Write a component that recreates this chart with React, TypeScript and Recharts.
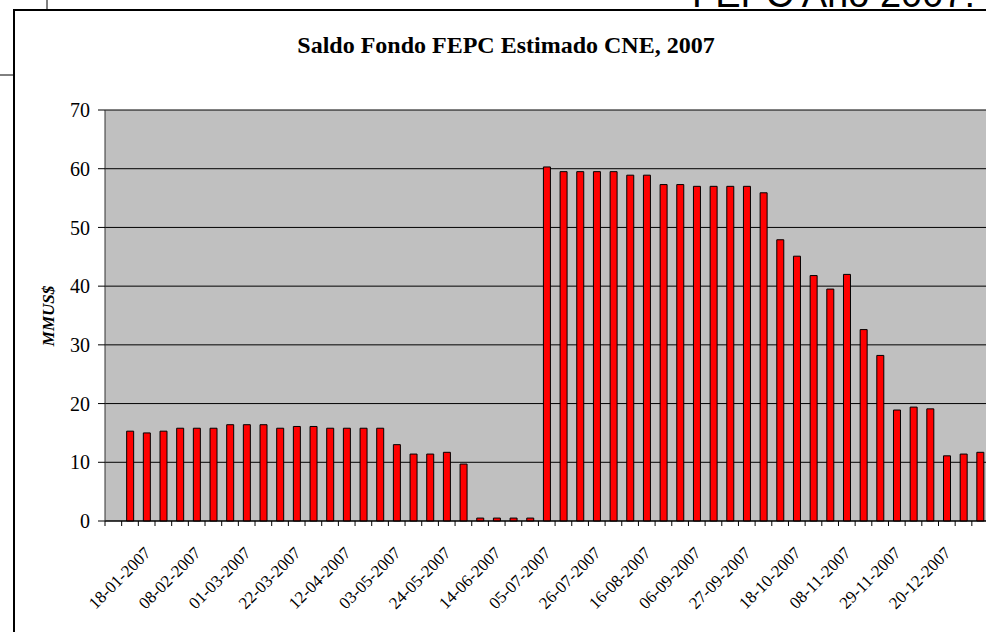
import { BarChart, Bar, XAxis, YAxis, CartesianGrid } from "recharts"

// semanas (jueves) 2007, la primera sin dato
const fechas = [
  "04-01-2007", "11-01-2007", "18-01-2007", "25-01-2007", "01-02-2007", "08-02-2007",
  "15-02-2007", "22-02-2007", "01-03-2007", "08-03-2007", "15-03-2007", "22-03-2007",
  "29-03-2007", "05-04-2007", "12-04-2007", "19-04-2007", "26-04-2007", "03-05-2007",
  "10-05-2007", "17-05-2007", "24-05-2007", "31-05-2007", "07-06-2007", "14-06-2007",
  "21-06-2007", "28-06-2007", "05-07-2007", "12-07-2007", "19-07-2007", "26-07-2007",
  "02-08-2007", "09-08-2007", "16-08-2007", "23-08-2007", "30-08-2007", "06-09-2007",
  "13-09-2007", "20-09-2007", "27-09-2007", "04-10-2007", "11-10-2007", "18-10-2007",
  "25-10-2007", "01-11-2007", "08-11-2007", "15-11-2007", "22-11-2007", "29-11-2007",
  "06-12-2007", "13-12-2007", "20-12-2007", "27-12-2007", "03-01-2008",
]

// saldo fondo FEPC, MMUS$
const saldo: (number | null)[] = [
  null,
  15.3, 15.0, 15.3, 15.8, 15.8, 15.8, 16.4, 16.4, 16.4, 15.8, 16.1, 16.1, 15.8,
  15.8, 15.8, 15.8, 13.0, 11.4, 11.4, 11.7, 9.7, 0.5, 0.5, 0.5, 0.5,
  60.3, 59.5, 59.5, 59.5, 59.5, 58.9, 58.9, 57.3, 57.3, 57.0, 57.0, 57.0, 57.0,
  55.9, 47.9, 45.1, 41.8, 39.5, 42.0, 32.6, 28.2, 18.9, 19.4, 19.1, 11.1, 11.4, 11.7,
]

const yTicks = [0, 10, 20, 30, 40, 50, 60, 70]

const data = fechas.map((fecha, i) => ({ fecha, saldo: saldo[i] }))

const CHART_W = 1000
const CHART_H = 632
const Y_AXIS_W = 105
const RIGHT = 11.5
const BAND = (CHART_W - Y_AXIS_W - RIGHT) / fechas.length

const serif = '"Liberation Serif", "Times New Roman", serif'

// excel style: tick marks between categories, label every 3rd week
// eslint-disable-next-line
const FechaTick = ({ x, y, payload, index }: any) => {
  const show = (index - 2) % 3 === 0
  const tx = x + 5
  const ty = y + 28
  return (
    <g>
      <line x1={x - BAND / 2} x2={x - BAND / 2} y1={y - 5} y2={y} stroke="#000" />
      {show && (
        <text
          x={tx}
          y={ty}
          transform={`rotate(-45 ${tx} ${ty})`}
          textAnchor="end"
          fontFamily={serif}
          fontSize={17}
          fill="#000"
        >
          {payload.value}
        </text>
      )}
    </g>
  )
}

export default function App() {
  return (
    <div
      style={{
        position: "absolute",
        left: 0,
        top: 0,
        width: 986,
        height: 632,
        overflow: "hidden",
        background: "#fff",
      }}
    >
      <BarChart
        width={CHART_W}
        height={CHART_H}
        data={data}
        margin={{ top: 110, right: RIGHT, left: 0, bottom: 0 }}
      >
        <CartesianGrid vertical={false} stroke="#000" fill="#C0C0C0" fillOpacity={1} />
        <XAxis
          dataKey="fecha"
          interval={0}
          height={111}
          tickLine={false}
          tickSize={5}
          tickMargin={0}
          axisLine={{ stroke: "#000" }}
          tick={<FechaTick />}
        />
        <YAxis
          domain={[0, 70]}
          ticks={yTicks}
          interval={0}
          width={Y_AXIS_W}
          tickSize={7}
          tickMargin={8}
          axisLine={{ stroke: "#333" }}
          tickLine={{ stroke: "#000" }}
          tick={{ fontFamily: serif, fontSize: 20, fill: "#000" }}
        />
        <Bar
          dataKey="saldo"
          fill="#FF0000"
          stroke="#000"
          strokeWidth={1}
          barSize={7}
          isAnimationActive={false}
        />
      </BarChart>

      {/* slide frame + titles */}
      <svg
        width={986}
        height={632}
        style={{ position: "absolute", left: 0, top: 0, pointerEvents: "none" }}
      >
        <line x1={47} y1={0} x2={47} y2={10} stroke="#000" strokeWidth={1} />
        <line x1={0} y1={75} x2={14} y2={75} stroke="#000" strokeWidth={1} />
        <line x1={13} y1={10} x2={986} y2={10} stroke="#000" strokeWidth={2} />
        <line x1={14} y1={10} x2={14} y2={632} stroke="#000" strokeWidth={2} />
        <text
          x={975}
          y={7}
          textAnchor="end"
          fontFamily='"Liberation Sans", Arial, sans-serif'
          fontSize={38}
          fill="#000"
        >
          FEPC Año 2007:
        </text>
        <text
          x={506}
          y={53}
          textAnchor="middle"
          fontFamily={serif}
          fontWeight="bold"
          fontSize={24}
          fill="#000"
        >
          Saldo Fondo FEPC Estimado CNE, 2007
        </text>
        <text
          x={48}
          y={316}
          transform="rotate(-90 48 316)"
          textAnchor="middle"
          dy="0.35em"
          fontFamily={serif}
          fontWeight="bold"
          fontStyle="italic"
          fontSize={17}
          fill="#000"
        >
          MMUS$
        </text>
      </svg>
    </div>
  )
}
